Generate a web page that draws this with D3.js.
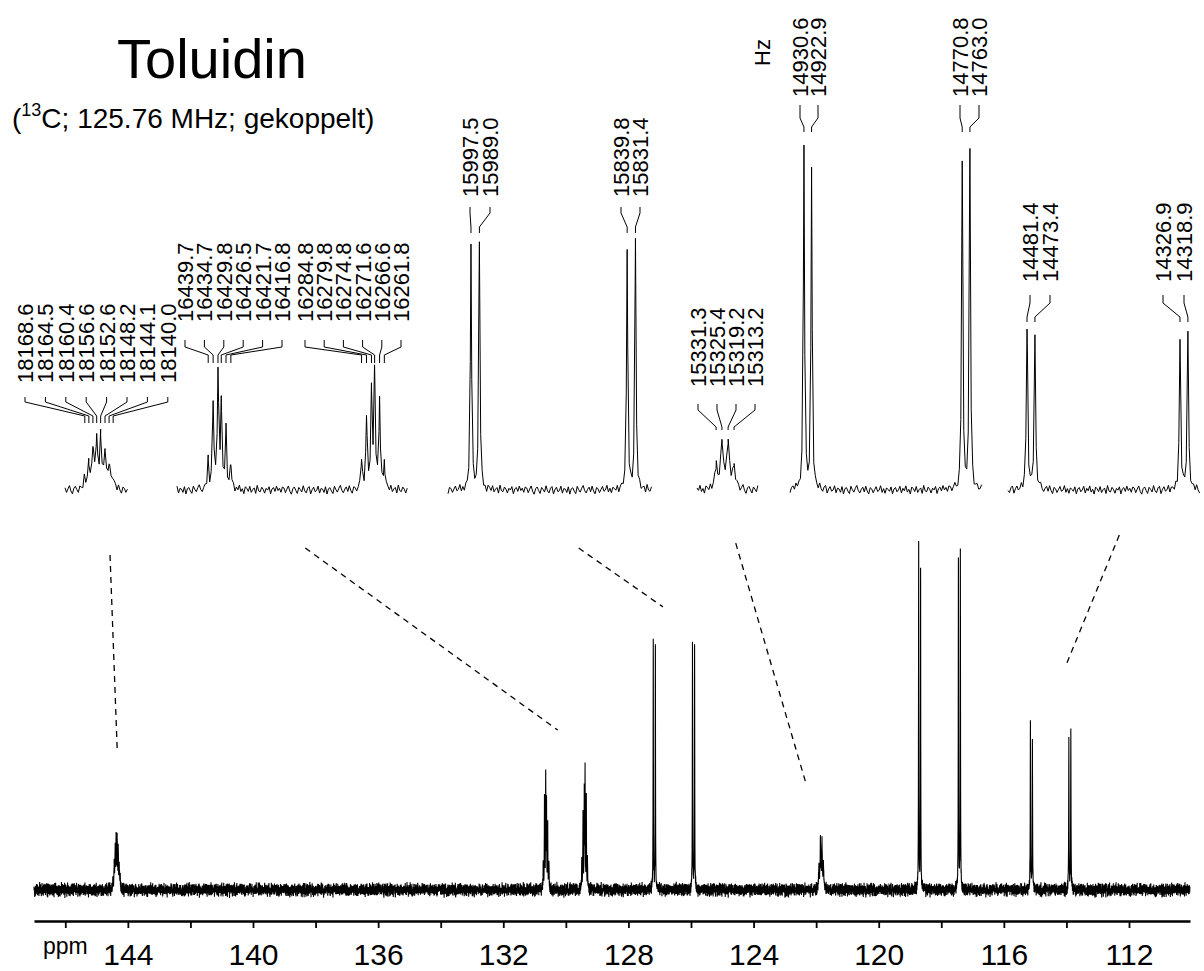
<!DOCTYPE html>
<html>
<head>
<meta charset="utf-8">
<script src="https://cdn.jsdelivr.net/npm/d3@7"></script>
<style>
  body { margin: 0; background: #fff; }
  svg { display: block; }
  text { font-family: "Liberation Sans", Arial, Helvetica, sans-serif; fill: #000; }
</style>
</head>
<body>
<svg id="chart" width="1204" height="971"></svg>
<script>
// ---- Spectrometer ----
const SF = 125.76; // MHz, 13C observe frequency

// ---- Resolved lines (Hz) and their intensities (a.u., 100 = tallest line) ----
const c1Hz  = [18168.6, 18164.5, 18160.4, 18156.6, 18152.6, 18148.2, 18144.1, 18140.0];
const c1Int = [3.2, 6.8, 11, 13.5, 14.5, 10.5, 6.8, 3.2];
const c2aHz  = [16439.7, 16434.7, 16429.8, 16426.5, 16421.7, 16416.8];
const c2aInt = [8, 25, 33, 24, 17, 7];
const c2bHz  = [16284.8, 16279.8, 16274.8, 16271.6, 16266.6, 16261.8];
const c2bInt = [8, 21, 27, 33, 25, 7.5];
const c3Hz  = [15997.5, 15989.0, 15839.8, 15831.4];
const c3Int = [70.9, 70.0, 69.1, 70.6];
const c4Hz  = [15331.3, 15325.4, 15319.2, 15313.2];
const c4Int = [6, 13, 13, 6];
const c5Hz  = [14930.6, 14922.9, 14770.8, 14763.0];
const c5Int = [98.6, 90.6, 93.4, 97.7];
const c6Hz  = [14481.4, 14473.4, 14326.9, 14318.9];
const c6Int = [46.3, 42.9, 42.0, 43.7];
// line widths (FWHM, Hz) per multiplet
const lineWidths = [2.2, 1.6, 1.6, 1.4, 3.2, 1.4, 1.6];

// baseline noise trace (a.u.)
const noise = [0.42,-0.61,0.18,0.87,-0.33,-0.95,0.27,0.64,-0.12,-0.78,0.55,0.09,-0.47,0.91,-0.21,
  -0.66,0.38,0.73,-0.88,0.05,0.59,-0.39,-0.14,0.82,-0.71,0.31,0.16,-0.57,0.68,-0.93,0.24,0.47,
  -0.29,-0.82,0.77,0.02,-0.51,0.35,0.96,-0.17,-0.68,0.13,0.58,-0.44,0.81,-0.26,-0.89,0.49,0.21,
  -0.63,0.07,0.71,-0.36,-0.08,0.92,-0.55,0.28,-0.75,0.44,0.11,-0.31,0.66,-0.84,0.19,0.53,-0.42,
  -0.02,0.79,-0.67,0.34,-0.19,0.88,-0.49,0.15,-0.91,0.62,0.26,-0.37,0.74,-0.58,0.04,0.41,-0.79,
  0.97,-0.23,-0.45,0.57,0.12,-0.72,0.33,-0.06,0.69,-0.86,0.22,0.51,-0.34,0.83,-0.15,0.37,-0.53,0.63];

// ---- Axis ----
const ppmDomain = [147.0, 110.05];
const ppmTicks = d3.range(146, 110, -2);

// ---- Expansion windows (Hz) ----
const insetHz = [
  [18188.6, 18125.0],
  [16471.2, 16237.9],
  [16020.7, 15814.7],
  [15350.6, 15289.0],
  [14944.7, 14749.8],
  [14500.6, 14306.7]
];

// dashed connectors: [ppm, intensity] on the full spectrum
const connTop    = [[144.57, 95.7], [138.33, 97.7], [129.59, 97.7], [124.57, 99.1], [112.31, 101.4]];
const connBottom = [[144.34, 40.0], [130.26, 45.7], [126.90, 80.9], [122.33, 30.6], [114.01, 64.3]];

// ---- Layout ----
const insetLayout = [
  { x: [65, 128],   textY: 383, lead: [397, 402, 416, 423] },
  { x: [177, 408],  textY: 322, lead: [340, 347, 355, 363] },
  { x: [448, 652],  textY: 197, lead: [207, 213, 227, 233] },
  { x: [697, 758],  textY: 387, lead: [404, 410, 427, 430] },
  { x: [790, 983],  textY: 97,  lead: [105, 118, 127, 132] },
  { x: [1008, 1200], textY: 282, lead: [295, 303, 317, 322] }
];
const labelGroups = [
  { hz: c1Hz, inset: 0, col0: 25, step: 20.4 },
  { hz: c2aHz, inset: 1, col0: 185, step: 19.4 },
  { hz: c2bHz, inset: 1, col0: 305, step: 19.2 },
  { hz: c3Hz.slice(0, 2), inset: 2, col0: 470, step: 20 },
  { hz: c3Hz.slice(2), inset: 2, col0: 621, step: 19 },
  { hz: c4Hz, inset: 3, col0: 698, step: 19 },
  { hz: c5Hz.slice(0, 2), inset: 4, col0: 800, step: 18 },
  { hz: c5Hz.slice(2), inset: 4, col0: 960, step: 19 },
  { hz: c6Hz.slice(0, 2), inset: 5, col0: 1030, step: 20 },
  { hz: c6Hz.slice(2), inset: 5, col0: 1163, step: 21 }
];

const svg = d3.select("#chart");
svg.append("rect").attr("width", 1204).attr("height", 971).attr("fill", "#fff");

// collect all lines
const allLines = [];
[[c1Hz, c1Int], [c2aHz, c2aInt], [c2bHz, c2bInt], [c3Hz, c3Int], [c4Hz, c4Int], [c5Hz, c5Int], [c6Hz, c6Int]]
  .forEach(([hz, it], k) => hz.forEach((f, i) => allLines.push({ f, a: it[i], g: lineWidths[k] / 2 })));

function signal(f) {
  let s = 0;
  for (const l of allLines) {
    const d = f - l.f;
    s += l.a * l.g * l.g / (d * d + l.g * l.g);
  }
  return s;
}
function sampleGrid(hi, lo, step) {
  const pts = [];
  for (let f = hi; f >= lo; f -= step) pts.push(f);
  allLines.forEach(l => { if (l.f < hi && l.f > lo) pts.push(l.f); });
  pts.sort((a, b) => b - a);
  return pts;
}

// ---- Full spectrum ----
const x = d3.scaleLinear().domain(ppmDomain).range([34, 1190]);
const y = d3.scaleLinear().domain([0, 100]).range([890, 540]);

const nN = noise.length;
const mainPts = sampleGrid(ppmDomain[0] * SF, ppmDomain[1] * SF, 0.6).map((f, i) => ({
  ppm: f / SF,
  v: signal(f) + 2.0 * (0.75 * noise[i % nN] + 0.45 * noise[(Math.floor(i / nN) * 7 + i * 3) % nN])
}));
svg.append("path")
  .datum(mainPts)
  .attr("fill", "none").attr("stroke", "#000").attr("stroke-width", 1.1)
  .attr("d", d3.line().x(d => x(d.ppm)).y(d => y(d.v)));

// axis
const axis = d3.axisBottom(x)
  .tickValues(ppmTicks)
  .tickSize(7).tickSizeOuter(0)
  .tickFormat(d => d % 4 === 0 ? d : "");
const gAxis = svg.append("g").attr("transform", "translate(0,921)").call(axis);
gAxis.select(".domain").attr("stroke", "#000").attr("stroke-width", 2.4);
gAxis.selectAll(".tick line").attr("stroke", "#000").attr("stroke-width", 1.8);
gAxis.selectAll(".tick text")
  .attr("y", 44).attr("dy", 0)
  .attr("font-size", 30)
  .attr("font-family", "Liberation Sans, Arial, sans-serif")
  .attr("fill", "#000");
svg.append("text").attr("x", 43).attr("y", 954).attr("font-size", 23).text("ppm");

// dashed connectors
svg.append("g").selectAll("line").data(connTop).join("line")
  .attr("x1", d => x(d[0])).attr("y1", d => y(d[1]))
  .attr("x2", (d, i) => x(connBottom[i][0])).attr("y2", (d, i) => y(connBottom[i][1]))
  .attr("stroke", "#000").attr("stroke-width", 1.3).attr("stroke-dasharray", "6,5");

// ---- Expansions ----
const yIn = d3.scaleLinear().domain([0, 100]).range([490, 140]);
const insetScales = insetHz.map((hz, k) => d3.scaleLinear().domain(hz).range(insetLayout[k].x));

insetHz.forEach((hz, k) => {
  const sx = insetScales[k];
  const pts = sampleGrid(hz[0], hz[1], 1.5).map((f, i) => ({
    f, v: signal(f) + 1.3 * noise[(i + k * 23) % nN]
  }));
  svg.append("path")
    .datum(pts)
    .attr("fill", "none").attr("stroke", "#000").attr("stroke-width", 1)
    .attr("stroke-linejoin", "round")
    .attr("d", d3.line().x(d => sx(d.f)).y(d => yIn(d.v)));
});

// line labels with leaders
labelGroups.forEach(gr => {
  const L = insetLayout[gr.inset];
  const sx = insetScales[gr.inset];
  const g = svg.append("g");
  gr.hz.forEach((f, i) => {
    const cx = gr.col0 + i * gr.step;
    const px = sx(f);
    g.append("text")
      .attr("transform", `translate(${cx + 8},${L.textY}) rotate(-90)`)
      .attr("font-size", 22)
      .text(f.toFixed(1));
    g.append("path")
      .attr("fill", "none").attr("stroke", "#000").attr("stroke-width", 1)
      .attr("d", d3.line()([[cx, L.lead[0]], [cx, L.lead[1]], [px, L.lead[2]], [px, L.lead[3]]]));
  });
});

// unit label for the line positions
svg.append("text")
  .attr("transform", "translate(770,66) rotate(-90)")
  .attr("font-size", 22).text("Hz");

// ---- Title ----
svg.append("text").attr("x", 117).attr("y", 78).attr("font-size", 56).text("Toluidin");
const sub = svg.append("text").attr("x", 12).attr("y", 128).attr("font-size", 28);
sub.append("tspan").text("(");
sub.append("tspan").attr("font-size", 18).attr("dy", -12).text("13");
sub.append("tspan").attr("dy", 12).text("C; 125.76 MHz; gekoppelt)");
</script>
</body>
</html>
